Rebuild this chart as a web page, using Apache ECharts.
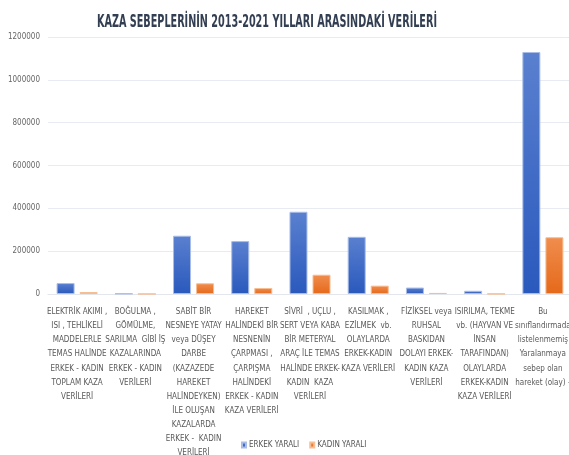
<!DOCTYPE html>
<html>
<head>
<meta charset="utf-8">
<script src="https://cdn.jsdelivr.net/npm/echarts@6/dist/echarts.min.js"></script>
<style>
  html, body { margin: 0; padding: 0; background: #fff; }
  #chart { width: 569px; height: 455px; }
</style>
</head>
<body>
<div id="chart"></div>
<script>
// kategori etiketleri (satır satır)
var categories = [
  "ELEKTRİK AKIMI ,\nISI , TEHLİKELİ\nMADDELERLE\nTEMAS HALİNDE\nERKEK - KADIN\nTOPLAM KAZA\nVERİLERİ",
  "BOĞULMA ,\nGÖMÜLME,\nSARILMA  GİBİ İŞ\nKAZALARINDA\nERKEK - KADIN\nVERİLERİ",
  "SABİT BİR\nNESNEYE YATAY\nveya DÜŞEY\nDARBE\n(KAZAZEDE\nHAREKET\nHALİNDEYKEN)\nİLE OLUŞAN\nKAZALARDA\nERKEK -  KADIN\nVERİLERİ",
  "HAREKET\nHALİNDEKİ BİR\nNESNENİN\nÇARPMASI ,\nÇARPIŞMA\nHALİNDEKİ\nERKEK - KADIN\nKAZA VERİLERİ",
  "SİVRİ  , UÇLU ,\nSERT VEYA KABA\nBİR METERYAL\nARAÇ İLE TEMAS\nHALİNDE ERKEK-\nKADIN  KAZA\nVERİLERİ",
  "KASILMAK ,\nEZİLMEK  vb.\nOLAYLARDA\nERKEK-KADIN\nKAZA VERİLERİ",
  "FİZİKSEL veya\nRUHSAL\nBASKIDAN\nDOLAYI ERKEK-\nKADIN KAZA\nVERİLERİ",
  "ISIRILMA, TEKME\nvb. (HAYVAN VE\nİNSAN\nTARAFINDAN)\nOLAYLARDA\nERKEK-KADIN\nKAZA VERİLERİ",
  "Bu\nsınıflandırmada\nlistelenmemiş\nYaralanmaya\nsebep olan\nhareket (olay) -"
];
var erkekYarali = [51000, 2000, 272000, 247000, 384000, 267000, 30000, 15000, 1130000];
var kadinYarali = [9000, 300, 50000, 28000, 90000, 39000, 5000, 1000, 265000];
var seriesNames = ["ERKEK YARALI", "KADIN YARALI"];
var titleText = "KAZA SEBEPLERİNİN 2013-2021 YILLARI ARASINDAKİ VERİLERİ";

var font = "'Liberation Sans Narrow', 'DejaVu Sans Condensed', sans-serif";

// başlık dar yazı tipinde: genişliğe göre yatay ölçekle
var titleFont = "bold 18px " + font;
var ctx = document.createElement("canvas").getContext("2d");
ctx.font = titleFont;
var titleScale = 340 / ctx.measureText(titleText).width;

var chart = echarts.init(document.getElementById("chart"));
chart.setOption({
  animation: false,
  graphic: [{
    type: "text",
    x: 97,
    y: 13,
    scaleX: titleScale,
    style: {
      text: titleText,
      font: titleFont,
      fill: "#323e52",
      align: "left",
      verticalAlign: "top"
    }
  }],
  legend: {
    data: seriesNames,
    left: 236,
    top: 436,
    itemWidth: 4,
    itemHeight: 5,
    itemGap: 10,
    icon: "rect",
    textStyle: { fontFamily: font, fontSize: 8, color: "#555", padding: [0, 0, 0, -2] }
  },
  grid: { left: 48, top: 37, width: 524, bottom: 161, outerBoundsMode: "none" },
  xAxis: {
    type: "category",
    data: categories,
    axisLine: { lineStyle: { color: "#e3e6ec" } },
    axisTick: { show: false },
    axisLabel: {
      interval: 0,
      fontFamily: font,
      fontSize: 8,
      lineHeight: 14.1,
      color: "#595959",
      margin: 11
    }
  },
  yAxis: {
    type: "value",
    min: 0,
    max: 1200000,
    interval: 200000,
    axisLine: { show: false },
    axisTick: { show: false },
    splitLine: { lineStyle: { color: "#e8ebf1" } },
    axisLabel: {
      fontFamily: font,
      fontSize: 8,
      color: "#666",
      margin: 8,
      formatter: function (v) { return String(v); }
    }
  },
  series: [
    {
      name: seriesNames[0],
      type: "bar",
      data: erkekYarali,
      barWidth: 18,
      barGap: "28%",
      itemStyle: {
        color: new echarts.graphic.LinearGradient(0, 0, 0, 1, [
          { offset: 0, color: "#5a80cf" },
          { offset: 1, color: "#2a59bd" }
        ]),
        borderColor: "#a9bde6",
        borderWidth: 1
      }
    },
    {
      name: seriesNames[1],
      type: "bar",
      data: kadinYarali,
      barWidth: 18,
      itemStyle: {
        color: new echarts.graphic.LinearGradient(0, 0, 0, 1, [
          { offset: 0, color: "#f08d4e" },
          { offset: 1, color: "#e5691a" }
        ]),
        borderColor: "#f7bd93",
        borderWidth: 1
      }
    }
  ]
});
</script>
</body>
</html>
